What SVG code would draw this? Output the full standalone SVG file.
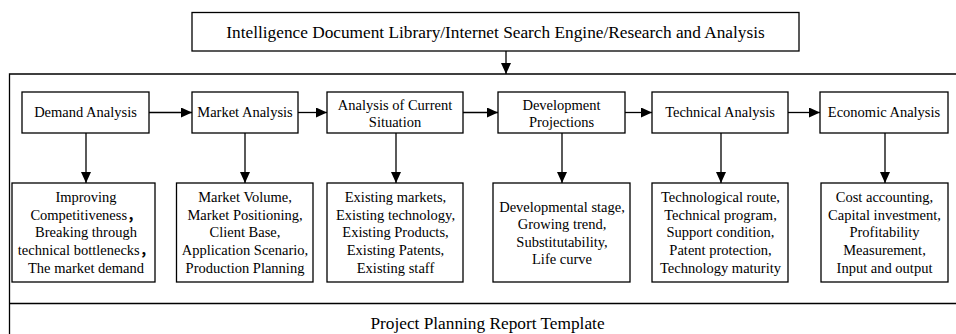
<svg xmlns="http://www.w3.org/2000/svg" width="956" height="334" viewBox="0 0 956 334">
  <style>
    .box { fill: #fff; stroke: #000; stroke-width: 1.3; }
    .line { fill: none; stroke: #000; stroke-width: 1.3; }
    .conn { fill: none; stroke: #000; stroke-width: 1.3; marker-end: url(#arrow); }
    text { font-family: "Liberation Serif", "Times New Roman", serif; font-size: 14.5px; fill: #000; text-anchor: middle; }
    .cjk { font-family: "Noto Sans CJK SC", sans-serif; font-weight: bold; }
    .big { font-size: 17.3px; }
  </style>
  <defs>
    <marker id="arrow" markerUnits="userSpaceOnUse" markerWidth="12" markerHeight="10" refX="11" refY="5" orient="auto">
      <path d="M0,0 L11,5 L0,10 Z" fill="#000"/>
    </marker>
  </defs>

  <rect width="956" height="334" fill="#fff"/>

  <!-- source box -->
  <g id="source">
    <rect class="box" x="192" y="12.5" width="607" height="38.5"/>
    <text class="big" x="495.5" y="37.5">Intelligence Document Library/Internet Search Engine/Research and Analysis</text>
  </g>

  <!-- outer frame with report footer -->
  <g id="frame">
    <path class="line" d="M960,74 H9.5 V340"/>
    <line class="line" x1="9.5" y1="303.5" x2="960" y2="303.5"/>
    <text class="big" x="487.5" y="328.5">Project Planning Report Template</text>
  </g>

  <!-- analysis stages -->
  <g id="demand">
    <rect class="box" x="22" y="92" width="127" height="41"/>
    <text x="85.5" y="117">Demand Analysis</text>
  </g>
  <g id="market">
    <rect class="box" x="192" y="92" width="106" height="41"/>
    <text x="245" y="117">Market Analysis</text>
  </g>
  <g id="current">
    <rect class="box" x="327" y="92" width="136" height="41"/>
    <text x="395" y="110">Analysis of Current</text>
    <text x="395" y="126.5">Situation</text>
  </g>
  <g id="development">
    <rect class="box" x="498" y="92" width="127" height="41"/>
    <text x="561.5" y="110">Development</text>
    <text x="561.5" y="126.5">Projections</text>
  </g>
  <g id="technical">
    <rect class="box" x="652" y="92" width="136" height="41"/>
    <text x="720" y="117">Technical Analysis</text>
  </g>
  <g id="economic">
    <rect class="box" x="820" y="92" width="128" height="41"/>
    <text x="884" y="117">Economic Analysis</text>
  </g>

  <!-- detail boxes -->
  <g id="demand-detail">
    <rect class="box" x="12" y="183" width="143" height="99"/>
    <text x="86" y="202">Improving</text>
    <text x="86" y="219.7">Competitiveness<tspan class="cjk">，</tspan></text>
    <text x="86" y="237.4">Breaking through</text>
    <text x="86" y="255.1">technical bottlenecks<tspan class="cjk">，</tspan></text>
    <text x="86" y="272.8">The market demand</text>
  </g>
  <g id="market-detail">
    <rect class="box" x="176.5" y="183" width="136.5" height="99"/>
    <text x="245" y="202">Market Volume,</text>
    <text x="245" y="219.7">Market Positioning,</text>
    <text x="245" y="237.4">Client Base,</text>
    <text x="245" y="255.1">Application Scenario,</text>
    <text x="245" y="272.8">Production Planning</text>
  </g>
  <g id="current-detail">
    <rect class="box" x="327" y="183" width="136" height="99"/>
    <text x="395.5" y="202">Existing markets,</text>
    <text x="395.5" y="219.7">Existing technology,</text>
    <text x="395.5" y="237.4">Existing Products,</text>
    <text x="395.5" y="255.1">Existing Patents,</text>
    <text x="395.5" y="272.8">Existing staff</text>
  </g>
  <g id="development-detail">
    <rect class="box" x="493" y="183" width="137" height="99"/>
    <text x="562" y="211.5">Developmental stage,</text>
    <text x="562" y="229">Growing trend,</text>
    <text x="562" y="246.6">Substitutability,</text>
    <text x="562" y="264.2">Life curve</text>
  </g>
  <g id="technical-detail">
    <rect class="box" x="652" y="183" width="136" height="99"/>
    <text x="720.5" y="202">Technological route,</text>
    <text x="720.5" y="219.7">Technical program,</text>
    <text x="720.5" y="237.4">Support condition,</text>
    <text x="720.5" y="255.1">Patent protection,</text>
    <text x="720.5" y="272.8">Technology maturity</text>
  </g>
  <g id="economic-detail">
    <rect class="box" x="821" y="183" width="127" height="99"/>
    <text x="884.5" y="202">Cost accounting,</text>
    <text x="884.5" y="219.7">Capital investment,</text>
    <text x="884.5" y="237.4">Profitability</text>
    <text x="884.5" y="255.1">Measurement,</text>
    <text x="884.5" y="272.8">Input and output</text>
  </g>

  <!-- connectors -->
  <g id="connectors">
    <line class="conn" x1="506" y1="51" x2="506" y2="74"/>
    <line class="conn" x1="149" y1="112.5" x2="192" y2="112.5"/>
    <line class="conn" x1="298" y1="112.5" x2="327" y2="112.5"/>
    <line class="conn" x1="463" y1="112.5" x2="498" y2="112.5"/>
    <line class="conn" x1="625" y1="112.5" x2="652" y2="112.5"/>
    <line class="conn" x1="788" y1="112.5" x2="820" y2="112.5"/>
    <line class="conn" x1="86" y1="133" x2="86" y2="183"/>
    <line class="conn" x1="245" y1="133" x2="245" y2="183"/>
    <line class="conn" x1="396" y1="133" x2="396" y2="183"/>
    <line class="conn" x1="562" y1="133" x2="562" y2="183"/>
    <line class="conn" x1="721" y1="133" x2="721" y2="183"/>
    <line class="conn" x1="885" y1="133" x2="885" y2="183"/>
  </g>
</svg>
